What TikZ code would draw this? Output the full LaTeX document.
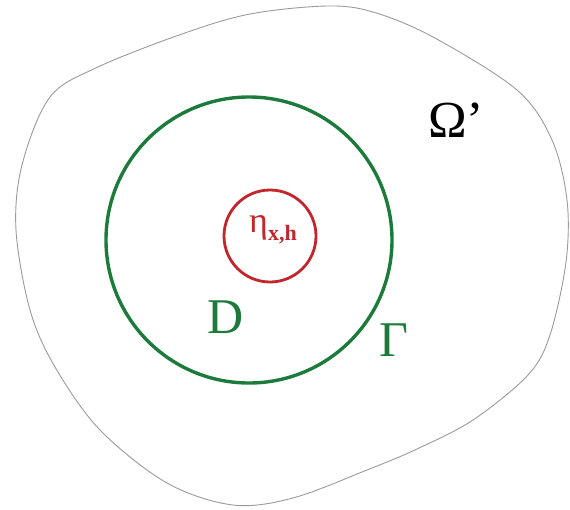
\documentclass[tikz,border=0pt]{standalone}
\usepackage{fontspec}
\setmainfont{Liberation Serif}
\usepackage{tikz}
\usetikzlibrary{positioning}
\usepackage{xcolor}
\definecolor{DomainGreen}{HTML}{1C7A3A}
\definecolor{KernelRed}{HTML}{C0272D}
\definecolor{OuterGray}{HTML}{9A9A9A}

\begin{document}
\begin{tikzpicture}[x=1pt,y=-1pt]
\useasboundingbox (0,0) rectangle (570,509);
% outer region Omega'
\draw[OuterGray,line width=0.9pt] plot[smooth cycle,tension=0.55] coordinates {
(50,97) (98,67) (182,34) (250,14) (327,6) (373,12) (433,37) (517,90)
(552,140) (567,200) (566,262) (550,335) (528,375) (473,420) (417,449) (367,470)
(293,498) (233,505) (167,483) (100,430) (55,367) (30,310) (16,230) (22,165)};
\node[circle,draw=DomainGreen,line width=3.4pt,minimum size=286pt,inner sep=0pt] (D) at (249,240) {};
\node[circle,draw=KernelRed,line width=2.8pt,minimum size=92pt,inner sep=0pt] (eta) at (270,236) {};
\node[KernelRed,font=\fontsize{36}{36}\selectfont,inner sep=0pt] (etalbl) at (273,230) {η\raisebox{-8pt}{\fontsize{22}{22}\selectfont\bfseries x,h}};
\node[DomainGreen,font=\fontsize{50}{50}\selectfont,inner sep=0pt] (Dlbl) at (226,317) {D};
\node[DomainGreen,font=\fontsize{50}{50}\selectfont,inner sep=0pt] (Glbl) at (394,340) {Γ};
\node[font=\fontsize{52}{52}\selectfont,inner sep=0pt] (Om) at (456,120) {Ω’};
\end{tikzpicture}
\end{document}
